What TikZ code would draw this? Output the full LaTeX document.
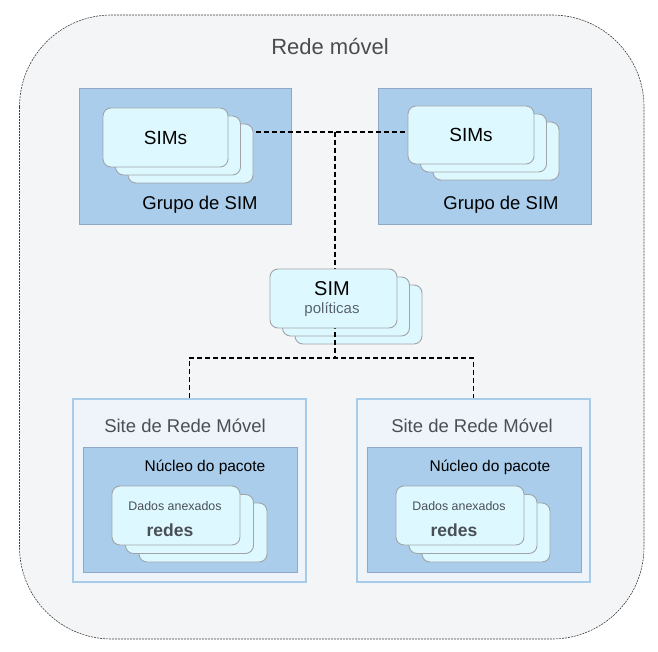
\documentclass[tikz,border=0pt]{standalone}
\usepackage{fontspec}
\setmainfont{Liberation Sans}
\pgfdeclarelayer{front}
\pgfsetlayers{main,front}
\definecolor{outerfill}{HTML}{F4F5F7}
\definecolor{grpfill}{HTML}{A9CDEA}
\definecolor{grpline}{HTML}{8FA8C8}
\definecolor{cardfill}{HTML}{DDF9FF}
\definecolor{cardline}{HTML}{A0A4A8}
\definecolor{sitefill}{HTML}{EEF4FA}
\definecolor{siteline}{HTML}{A6CCEA}
\definecolor{txtgray}{HTML}{4A4F55}
\definecolor{polgray}{HTML}{5A6470}
\tikzset{
  outerbox/.style={draw=black!75, dashed, dash pattern=on 2pt off 1pt, line width=0.6pt, fill=outerfill, rounded corners=92pt},
  grpbox/.style={draw=grpline, fill=grpfill, line width=0.8pt, inner sep=0pt},
  sitebox/.style={draw=siteline, fill=sitefill, line width=1.6pt, inner sep=0pt},
  card/.style={draw=cardline, fill=cardfill, line width=0.9pt, rounded corners=8pt, inner sep=0pt},
  conn/.style={draw=black, line width=1.8pt, dash pattern=on 5pt off 3pt},
}
\begin{document}
\begin{tikzpicture}[x=1pt,y=-1pt]
\useasboundingbox (0,0) rectangle (658,652);
% outer
\draw[outerbox] (19.5,15) rectangle (644,639);
\node[text=black!70, font=\fontsize{22}{24}\selectfont] (title) at (330,47) {Rede móvel};

% SIM groups
\node[grpbox, minimum width=212pt, minimum height=136pt] (gl) at (185,156) {};
\node[grpbox, minimum width=213pt, minimum height=136pt] (gr) at (484.5,156) {};
\node[card, minimum width=125pt, minimum height=59pt] (lc3) at (190.5,153.5) {};
\node[card, minimum width=125pt, minimum height=59pt] (lc2) at (178,145.5) {};
\node[card, minimum width=125pt, minimum height=59pt] (lc1) at (165.5,137.5) {};
\node[font=\fontsize{19}{21}\selectfont] (lt) at (lc1.center) {SIMs};
\node[card, minimum width=126pt, minimum height=58pt] (rc3) at (496,151) {};
\node[card, minimum width=126pt, minimum height=58pt] (rc2) at (483.5,143) {};
\node[font=\fontsize{18.5}{21}\selectfont] (glabl) at (200,205) {Grupo de SIM};
\node[font=\fontsize{18.5}{21}\selectfont] (glabr) at (501,205) {Grupo de SIM};

% sites
\node[sitebox, minimum width=233pt, minimum height=183pt] (sl) at (189.5,490.5) {};
\node[sitebox, minimum width=233pt, minimum height=183pt] (sr) at (473.5,490.5) {};
\node[grpbox, minimum width=214pt, minimum height=125pt] (il) at (190,509.5) {};
\node[grpbox, minimum width=214pt, minimum height=125pt] (ir) at (474,509.5) {};
\node[text=txtgray, font=\fontsize{18.5}{21}\selectfont] (slt) at (185,426) {Site de Rede Móvel};
\node[text=txtgray, font=\fontsize{18.5}{21}\selectfont] (srt) at (472,426) {Site de Rede Móvel};
\node[font=\fontsize{15.5}{18}\selectfont] (ilt) at (205,467) {Núcleo do pacote};
\node[font=\fontsize{15.5}{18}\selectfont] (irt) at (490,467) {Núcleo do pacote};
\node[card, minimum width=128pt, minimum height=59pt] (sl3) at (203,532.5) {};
\node[card, minimum width=128pt, minimum height=59pt] (sl2) at (189.5,524) {};
\node[card, minimum width=128pt, minimum height=59pt] (sl1) at (176,515.5) {};
\node[card, minimum width=128pt, minimum height=59pt] (sr3) at (486,532.5) {};
\node[card, minimum width=128pt, minimum height=59pt] (sr2) at (473,524) {};
\node[card, minimum width=128pt, minimum height=59pt] (sr1) at (460,515.5) {};
\node[text=txtgray, font=\fontsize{12.4}{14}\selectfont] (dl) at (175,506) {Dados anexados};
\node[text=txtgray, font=\bfseries\fontsize{17.5}{20}\selectfont] (rl) at (170,530) {redes};
\node[text=txtgray, font=\fontsize{12.4}{14}\selectfont] (dr) at (459,506) {Dados anexados};
\node[text=txtgray, font=\bfseries\fontsize{17.5}{20}\selectfont] (rr) at (454,530) {redes};

% policies back cards
\node[card, minimum width=127pt, minimum height=59pt] (pc3) at (358.5,314.5) {};
\node[card, minimum width=127pt, minimum height=59pt] (pc2) at (346,306.5) {};

% connectors
\coordinate (j1) at (335,132);
\coordinate (j2) at (335,358);
\begin{pgfonlayer}{front}
\node[card, minimum width=126pt, minimum height=58pt] (rc1) at (471,135) {};
\node[font=\fontsize{19}{21}\selectfont] (rt) at (rc1.center) {SIMs};
\node[card, minimum width=127pt, minimum height=59pt] (pc1) at (333.5,298.5) {};
\node[font=\fontsize{20}{22}\selectfont] (pt1) at (332,289) {SIM};
\node[text=polgray, font=\fontsize{15}{17}\selectfont] (pt2) at (332,310) {políticas};
\end{pgfonlayer}
\draw[conn] ([xshift=3pt]lc3.east |- j1) -- (rc1.west |- j1);
\draw[conn] (j1) -- (j2);
\draw[conn] (sl.north) -- (sl.north |- j2) -- (sr.north |- j2) -- (sr.north);
\end{tikzpicture}
\end{document}
